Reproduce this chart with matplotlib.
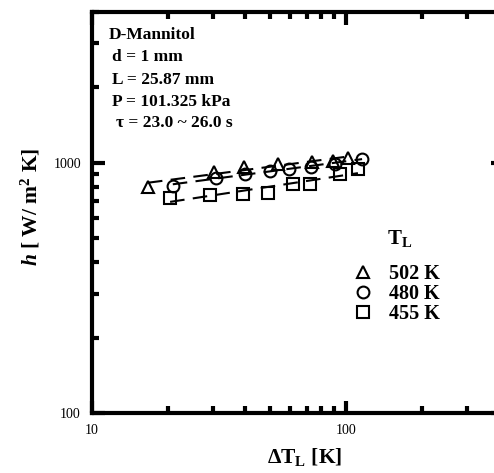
import matplotlib
matplotlib.use("Agg")
import matplotlib.pyplot as plt
from matplotlib.ticker import LogLocator, NullFormatter, FixedLocator, FixedFormatter
import numpy as np

plt.rcParams['font.family'] = ['Liberation Serif', 'DejaVu Serif']
plt.rcParams['mathtext.fontset'] = 'custom'
plt.rcParams['mathtext.rm'] = 'Liberation Serif:bold'
plt.rcParams['mathtext.it'] = 'Liberation Serif:bold:italic'
plt.rcParams['mathtext.bf'] = 'Liberation Serif:bold'

# data
dT_502 = [16.6, 30.2, 39.7, 53.9, 73.5, 89.0, 102.0]
h_502 = [803, 920, 964, 991, 1009, 1018, 1047]

dT_480 = [20.8, 30.8, 40.0, 50.2, 59.7, 72.8, 90.5, 115.7]
h_480 = [810, 871, 904, 929, 946, 964, 991, 1037]

dT_455 = [20.3, 29.2, 39.3, 49.3, 61.8, 72.1, 94.6, 111.4]
h_455 = [725, 746, 753, 760, 825, 825, 904, 946]

series = [
    (dT_502, h_502, '^', '502 K'),
    (dT_480, h_480, 'o', '480 K'),
    (dT_455, h_455, 's', '455 K'),
]

info_lines = ["D-Mannitol", "d = 1 mm", "L = 25.87 mm", "P = 101.325 kPa",
              "\u03c4 = 23.0 ~ 26.0 s"]

W, H = 494, 473
fig = plt.figure(figsize=(W / 100, H / 100), dpi=100)
# right spine sits just past the image edge, as in the original
ax = fig.add_axes([92 / W, 1 - 413 / H, (503 - 92) / W, (413 - 12) / H])

ax.set_xscale('log')
ax.set_yscale('log')
ax.set_xlim(10, 415)
ax.set_ylim(100, 4000)

handles = []
for x, y, m, lab in series:
    x = np.array(x)
    y = np.array(y)
    # power-law fit drawn as dashed line
    k, c = np.polyfit(np.log10(x), np.log10(y), 1)
    xf = np.array([x.min(), x.max()])
    ax.plot(xf, 10 ** (c + k * np.log10(xf)), color='black', lw=1.5,
            dashes=(7, 4), zorder=2)
    hd, = ax.plot(x, y, linestyle='none', marker=m, markersize=8.5,
                  markerfacecolor='none', markeredgecolor='black',
                  markeredgewidth=1.5, label=lab, zorder=3)
    handles.append(hd)

for s in ax.spines.values():
    s.set_linewidth(3)

ax.xaxis.set_major_locator(FixedLocator([10, 100]))
ax.xaxis.set_major_formatter(FixedFormatter(['10', '100']))
ax.xaxis.set_minor_locator(LogLocator(base=10, subs=np.arange(2, 10)))
ax.xaxis.set_minor_formatter(NullFormatter())
ax.yaxis.set_major_locator(FixedLocator([100, 1000]))
ax.yaxis.set_major_formatter(FixedFormatter(['100', '1000']))
ax.yaxis.set_minor_locator(LogLocator(base=10, subs=np.arange(2, 10)))
ax.yaxis.set_minor_formatter(NullFormatter())
ax.tick_params(which='both', direction='in', top=True, right=True, labelsize=10,
               width=3)
ax.tick_params(which='major', length=9, pad=8)
ax.tick_params(which='minor', length=5)

fig.text(305 / W, 1 - 457 / H, r"$\Delta$T$_\mathrm{L}$ [K]", ha='center',
         va='center', fontsize=15.5, fontweight='bold')
fig.text(31 / W, 1 - 207 / H, r"$h$ [ W/ m$^2$ K]", ha='center', va='center',
         rotation=90, fontsize=15.5, fontweight='bold')

ys = [35, 57, 80, 102, 123]
xs = [109, 112, 112, 112, 116]
for t, xp, yp in zip(info_lines, xs, ys):
    fig.text(xp / W, 1 - yp / H, t, ha='left', va='center', fontsize=12.5,
             fontweight='bold')

fig.text(387 / W, 1 - 238 / H, r"T$_\mathrm{L}$", ha='left', va='center',
         fontsize=15, fontweight='bold')
ax.legend(handles=handles, loc='upper left',
          bbox_to_anchor=(343 / W, 1 - 254 / H), bbox_transform=fig.transFigure,
          frameon=False, handlelength=1.0, handletextpad=0.8, labelspacing=0.0,
          prop={'weight': 'bold', 'size': 14.5}, borderpad=0)

fig.savefig('out.png', dpi=100)
